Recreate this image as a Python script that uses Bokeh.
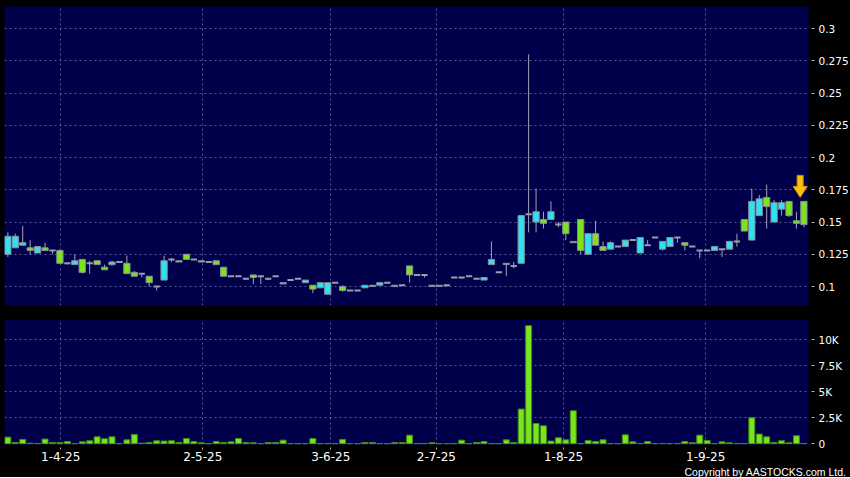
from bokeh.plotting import figure
from bokeh.layouts import column
from bokeh.models import FixedTicker, Range1d, Title, ColumnDataSource
from bokeh.embed import file_html
from bokeh.resources import INLINE

# ---------------- data ----------------
opens = [0.125, 0.130, 0.132, 0.130, 0.126, 0.130, 0.128, 0.128, 0.118, 0.117,
         0.121, 0.118, 0.120, 0.115, 0.117, 0.119, 0.118, 0.111, 0.110, 0.108,
         0.100, 0.105, 0.121, 0.119, 0.125, 0.121, 0.120, 0.119, 0.120, 0.115,
         0.108, 0.108, 0.106, 0.109, 0.108, 0.106, 0.108, 0.102, 0.105, 0.106,
         0.103, 0.101, 0.099, 0.094, 0.103, 0.100, 0.097, 0.097, 0.099, 0.101,
         0.101, 0.103, 0.100, 0.101, 0.116, 0.109, 0.109, 0.100, 0.100, 0.101,
         0.107, 0.107, 0.108, 0.106, 0.105, 0.117, 0.111, 0.118, 0.116, 0.118,
         0.156, 0.150, 0.152, 0.152, 0.148, 0.150, 0.135, 0.152, 0.125, 0.141,
         0.131, 0.129, 0.131, 0.131, 0.136, 0.126, 0.132, 0.138, 0.129, 0.131,
         0.138, 0.134, 0.131, 0.128, 0.128, 0.128, 0.129, 0.129, 0.135, 0.152,
         0.136, 0.155, 0.169, 0.150, 0.160, 0.166, 0.151, 0.166]
highs = [0.142, 0.141, 0.147, 0.136, 0.131, 0.134, 0.128, 0.128, 0.118, 0.125,
         0.121, 0.120, 0.120, 0.117, 0.120, 0.119, 0.124, 0.112, 0.110, 0.108,
         0.100, 0.124, 0.122, 0.120, 0.125, 0.121, 0.120, 0.119, 0.120, 0.115,
         0.108, 0.108, 0.106, 0.109, 0.108, 0.106, 0.108, 0.103, 0.105, 0.106,
         0.105, 0.101, 0.103, 0.103, 0.103, 0.101, 0.097, 0.097, 0.101, 0.101,
         0.103, 0.103, 0.101, 0.101, 0.116, 0.109, 0.109, 0.101, 0.101, 0.101,
         0.107, 0.107, 0.108, 0.106, 0.107, 0.135, 0.111, 0.118, 0.119, 0.155,
         0.280, 0.176, 0.158, 0.166, 0.150, 0.150, 0.135, 0.152, 0.141, 0.151,
         0.135, 0.135, 0.131, 0.136, 0.136, 0.138, 0.136, 0.138, 0.135, 0.138,
         0.138, 0.134, 0.131, 0.128, 0.128, 0.131, 0.129, 0.135, 0.141, 0.152,
         0.176, 0.171, 0.179, 0.167, 0.167, 0.166, 0.158, 0.166]
lows = [0.123, 0.130, 0.132, 0.125, 0.126, 0.128, 0.125, 0.118, 0.117, 0.117,
        0.110, 0.110, 0.117, 0.113, 0.116, 0.119, 0.110, 0.108, 0.107, 0.100,
        0.097, 0.105, 0.119, 0.119, 0.121, 0.121, 0.119, 0.119, 0.117, 0.108,
        0.108, 0.108, 0.105, 0.102, 0.102, 0.105, 0.108, 0.102, 0.105, 0.106,
        0.103, 0.095, 0.099, 0.094, 0.103, 0.096, 0.097, 0.097, 0.099, 0.100,
        0.101, 0.103, 0.100, 0.101, 0.103, 0.109, 0.107, 0.100, 0.100, 0.100,
        0.107, 0.106, 0.108, 0.106, 0.105, 0.117, 0.111, 0.108, 0.114, 0.118,
        0.142, 0.142, 0.145, 0.152, 0.146, 0.136, 0.134, 0.125, 0.125, 0.132,
        0.128, 0.129, 0.131, 0.131, 0.136, 0.126, 0.132, 0.138, 0.128, 0.131,
        0.134, 0.128, 0.131, 0.122, 0.128, 0.128, 0.123, 0.129, 0.131, 0.143,
        0.136, 0.155, 0.145, 0.150, 0.155, 0.154, 0.145, 0.146]
closes = [0.139, 0.139, 0.134, 0.128, 0.131, 0.128, 0.128, 0.118, 0.118, 0.120,
          0.111, 0.118, 0.117, 0.113, 0.119, 0.119, 0.110, 0.108, 0.110, 0.103,
          0.100, 0.120, 0.121, 0.120, 0.121, 0.121, 0.119, 0.119, 0.117, 0.108,
          0.108, 0.108, 0.106, 0.107, 0.108, 0.106, 0.108, 0.103, 0.105, 0.106,
          0.105, 0.098, 0.103, 0.103, 0.103, 0.097, 0.097, 0.097, 0.101, 0.100,
          0.103, 0.103, 0.101, 0.101, 0.109, 0.109, 0.109, 0.101, 0.101, 0.101,
          0.107, 0.107, 0.108, 0.106, 0.107, 0.121, 0.111, 0.117, 0.116, 0.155,
          0.156, 0.158, 0.149, 0.158, 0.148, 0.141, 0.134, 0.128, 0.141, 0.132,
          0.128, 0.134, 0.131, 0.136, 0.136, 0.138, 0.132, 0.138, 0.135, 0.138,
          0.138, 0.132, 0.131, 0.128, 0.128, 0.131, 0.129, 0.135, 0.135, 0.143,
          0.166, 0.168, 0.162, 0.165, 0.165, 0.155, 0.149, 0.148]
volumes = [640, 130, 420, 60, 30, 450, 130, 130, 220, 0,
           190, 290, 670, 480, 670, 0, 380, 900, 60, 130,
           290, 260, 290, 130, 510, 220, 100, 0, 220, 130,
           190, 510, 130, 100, 0, 130, 130, 350, 0, 0,
           0, 510, 0, 30, 0, 420, 0, 0, 130, 130,
           30, 0, 130, 130, 830, 20, 30, 100, 0, 0,
           0, 350, 0, 130, 220, 0, 0, 380, 130, 3330,
           11330, 1950, 1730, 260, 580, 380, 3170, 0, 320, 220,
           380, 0, 0, 860, 190, 30, 220, 0, 30, 0,
           30, 220, 100, 830, 320, 0, 190, 100, 30, 30,
           2500, 930, 670, 130, 290, 100, 770, 30]

x_tick_pos = [7.1, 26.2, 43.4, 57.6, 74.7, 93.8]
x_tick_labels = ["1-4-25", "2-5-25", "3-6-25", "2-7-25", "1-8-25", "1-9-25"]
price_ticks = [0.1, 0.125, 0.15, 0.175, 0.2, 0.225, 0.25, 0.275, 0.3]
price_tick_labels = ["0.1", "0.125", "0.15", "0.175", "0.2", "0.225", "0.25", "0.275", "0.3"]
vol_ticks = [0, 2500, 5000, 7500, 10000]
vol_tick_labels = ["0", "2.5K", "5K", "7.5K", "10K"]
copyright_text = "Copyright by AASTOCKS.com Ltd."

# ---------------- styling ----------------
UP = "#2de4ee"
DOWN = "#7ae51e"
EDGE = "#8c8c9c"
WICK = "#a2a2ba"
DOJI = "#9c9cac"
BG = "#00004a"
GRID = "#56569a"
VOL_EDGE = "#3f8a12"
FONT = "DejaVu Sans"

n = len(opens)
idx = list(range(n))
FRAME_W = 804
PRICE_LO, PRICE_HI = 0.0853, 0.3171
PRICE_H = 299
x_range = Range1d(-0.45, n - 0.38)

up = [i for i in idx if closes[i] > opens[i]]
dn = [i for i in idx if closes[i] < opens[i]]
dj = [i for i in idx if closes[i] == opens[i]]


def body_src(ids):
    return ColumnDataSource(dict(
        x=ids,
        top=[max(opens[i], closes[i]) for i in ids],
        bottom=[min(opens[i], closes[i]) for i in ids],
    ))


def style_common(p):
    p.background_fill_color = BG
    p.border_fill_color = "black"
    p.outline_line_color = None
    p.grid.grid_line_color = GRID
    p.grid.grid_line_dash = "2 3"
    p.grid.grid_line_width = 1
    p.xgrid.ticker = FixedTicker(ticks=x_tick_pos)
    p.yaxis.axis_line_color = None
    p.yaxis.major_tick_line_color = "#b0b0b0"
    p.yaxis.major_tick_in = -3
    p.yaxis.major_tick_out = 6
    p.yaxis.minor_tick_line_color = None
    p.yaxis.major_label_standoff = 4
    p.yaxis.major_label_text_color = "white"
    p.yaxis.major_label_text_font = FONT
    p.yaxis.major_label_text_font_size = "10.5px"


# ---------------- price panel ----------------
p1 = figure(frame_width=FRAME_W, frame_height=PRICE_H,
            x_range=x_range, y_range=Range1d(PRICE_LO, PRICE_HI),
            x_axis_location=None, y_axis_location="right",
            toolbar_location=None, output_backend="svg",
            min_border_left=4, min_border_right=42,
            min_border_top=6, min_border_bottom=7)
style_common(p1)
p1.yaxis.ticker = FixedTicker(ticks=price_ticks)
p1.yaxis.major_label_overrides = dict(zip(price_ticks, price_tick_labels))
p1.ygrid.ticker = FixedTicker(ticks=price_ticks)

p1.segment(x0=idx, x1=idx, y0=lows, y1=highs, line_color=WICK, line_width=1)
half = 0.42
p1.segment(x0=[i - half for i in dj], x1=[i + half for i in dj],
           y0=[closes[i] for i in dj], y1=[closes[i] for i in dj],
           line_color=DOJI, line_width=2)
p1.vbar(x="x", top="top", bottom="bottom", width=2 * half, source=body_src(up),
        fill_color=UP, line_color=EDGE, line_width=1)
p1.vbar(x="x", top="top", bottom="bottom", width=2 * half, source=body_src(dn),
        fill_color=DOWN, line_color=EDGE, line_width=1)

# marker arrow above the latest candle (built in pixel offsets)
px_x = (x_range.end - x_range.start) / FRAME_W
px_y = (PRICE_HI - PRICE_LO) / PRICE_H
ax0 = idx[-1] - 0.5
ay0 = highs[-1] + 4 * px_y          # tip, 4px above the high
shape_px = [(0, 0), (7, 11), (3, 11), (3, 22), (-3, 22), (-3, 11), (-7, 11)]
p1.patch(x=[ax0 + dx * px_x for dx, dy in shape_px],
         y=[ay0 + dy * px_y for dx, dy in shape_px],
         fill_color="#f7c20a", line_color="#d98c00", line_width=1)

# ---------------- volume panel ----------------
p2 = figure(frame_width=FRAME_W, frame_height=125,
            x_range=x_range, y_range=Range1d(-67, 11920),
            x_axis_location="below", y_axis_location="right",
            toolbar_location=None, output_backend="svg",
            min_border_left=4, min_border_right=42,
            min_border_top=7, min_border_bottom=0)
style_common(p2)
p2.yaxis.ticker = FixedTicker(ticks=vol_ticks)
p2.yaxis.major_label_overrides = dict(zip(vol_ticks, vol_tick_labels))
p2.ygrid.ticker = FixedTicker(ticks=vol_ticks)
p2.xaxis.ticker = FixedTicker(ticks=x_tick_pos)
p2.xaxis.major_label_overrides = dict(zip(x_tick_pos, x_tick_labels))
p2.xaxis.axis_line_color = None
p2.xaxis.major_tick_line_color = "#b0b0b0"
p2.xaxis.major_tick_in = -3
p2.xaxis.major_tick_out = 5
p2.xaxis.minor_tick_line_color = None
p2.xaxis.major_label_standoff = 2
p2.xaxis.major_label_text_color = "white"
p2.xaxis.major_label_text_font = FONT
p2.xaxis.major_label_text_font_size = "12px"

p2.vbar(x=idx, top=volumes, bottom=0, width=0.8,
        fill_color=DOWN, line_color=VOL_EDGE, line_width=1)

p2.add_layout(Title(text=copyright_text, align="right", offset=-38, standoff=0,
                    text_color="white", text_font="Liberation Sans",
                    text_font_size="10.5px", text_font_style="normal"), "below")

layout = column(p1, p2, spacing=0)
layout.styles = {"background-color": "black"}

open("out.html", "w").write(file_html(layout, INLINE))
